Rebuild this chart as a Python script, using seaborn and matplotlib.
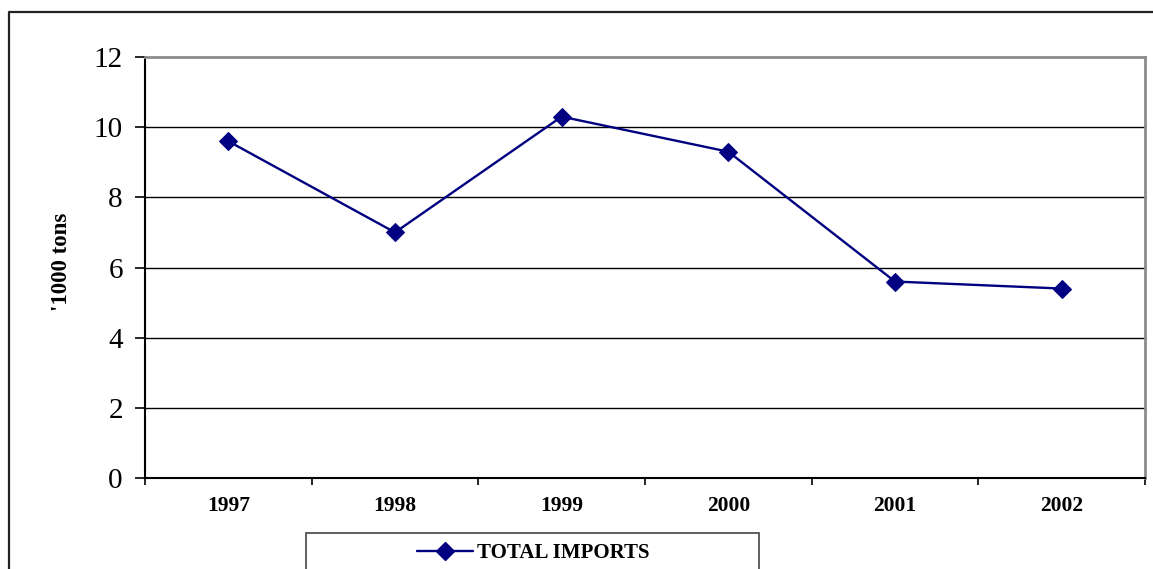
import matplotlib
matplotlib.use("Agg")
import matplotlib.pyplot as plt
import matplotlib.patches as mpatches
from matplotlib.lines import Line2D
from matplotlib.ticker import FixedLocator, NullFormatter
import seaborn as sns
import pandas as pd

years = ["1997", "1998", "1999", "2000", "2001", "2002"]
imports = [9.6, 7.0, 10.3, 9.3, 5.6, 5.4]
y_ticks = [0, 2, 4, 6, 8, 10, 12]
series_name = "TOTAL IMPORTS"
y_label = "'1000 tons"

sns.set_style("white")
plt.rcParams["font.family"] = ["Liberation Serif", "DejaVu Serif"]
plt.rcParams["text.color"] = "black"
plt.rcParams["axes.labelcolor"] = "black"
plt.rcParams["xtick.color"] = "black"
plt.rcParams["ytick.color"] = "black"

W, H = 1153, 569
fig = plt.figure(figsize=(W / 100, H / 100), dpi=100)
L, R, T, B = 145, 1145, 57, 478
ax = fig.add_axes([L / W, 1 - B / H, (R - L) / W, (B - T) / H])

df = pd.DataFrame({"pos": range(len(years)), "val": imports})
navy = "#000080"
sns.lineplot(data=df, x="pos", y="val", ax=ax, color=navy, linewidth=1.7,
             marker="D", markersize=9, markeredgecolor=navy, legend=False)

ax.set_xlim(-0.5, len(years) - 0.5)
ax.set_ylim(0, 12)
ax.set_yticks(y_ticks)
ax.set_yticklabels([str(v) for v in y_ticks], fontsize=21, color="black")
ax.set_xticks(range(len(years)))
ax.set_xticklabels(years, fontsize=15.5, fontweight="bold", color="black")
ax.xaxis.set_minor_locator(FixedLocator([i - 0.5 for i in range(len(years) + 1)]))
ax.xaxis.set_minor_formatter(NullFormatter())
ax.tick_params(axis="x", which="major", length=0, pad=13)
ax.tick_params(axis="x", which="minor", length=5, width=1.2, color="black", direction="out", bottom=True)
ax.tick_params(axis="y", which="major", length=7, width=1.2, color="black", direction="out", pad=9, left=True)
ax.set_xlabel("")
ax.set_ylabel(y_label, fontsize=16.5, fontweight="bold", color="black")
ax.yaxis.set_label_coords(-73 / (R - L), 1 - (262 - T) / (B - T))

for v in y_ticks[1:-1]:
    ax.axhline(v, color="black", linewidth=1.0, zorder=0)

ax.spines["left"].set_color("black")
ax.spines["left"].set_linewidth(1.5)
ax.spines["bottom"].set_color("black")
ax.spines["bottom"].set_linewidth(1.5)
ax.spines["top"].set_color("#8c8c8c")
ax.spines["top"].set_linewidth(2)
ax.spines["right"].set_color("#8c8c8c")
ax.spines["right"].set_linewidth(2)
for s in ax.spines.values():
    s.set_visible(True)

# outer chart frame (left and top edges only visible)
fig.lines.append(Line2D([9 / W, 9 / W, 1.2], [-0.2, 1 - 12 / H, 1 - 12 / H],
                        transform=fig.transFigure, color="#222222", linewidth=1.6))
# legend box
fig.patches.append(mpatches.Rectangle((306 / W, -0.1), (759 - 306) / W, 1 - 533 / H + 0.1,
                                      transform=fig.transFigure, fill=False,
                                      edgecolor="#444444", linewidth=1.2, clip_on=False))
handle = Line2D([], [], color=navy, linewidth=1.7, marker="D", markersize=9,
                markeredgecolor=navy)
fig.legend([handle], [series_name], loc="center", bbox_to_anchor=(533 / W, 1 - 553 / H),
           frameon=False, prop={"weight": "bold", "size": 15}, handlelength=2.7,
           handletextpad=0.2, borderpad=0, labelcolor="black")

fig.savefig("out.png", dpi=100)
